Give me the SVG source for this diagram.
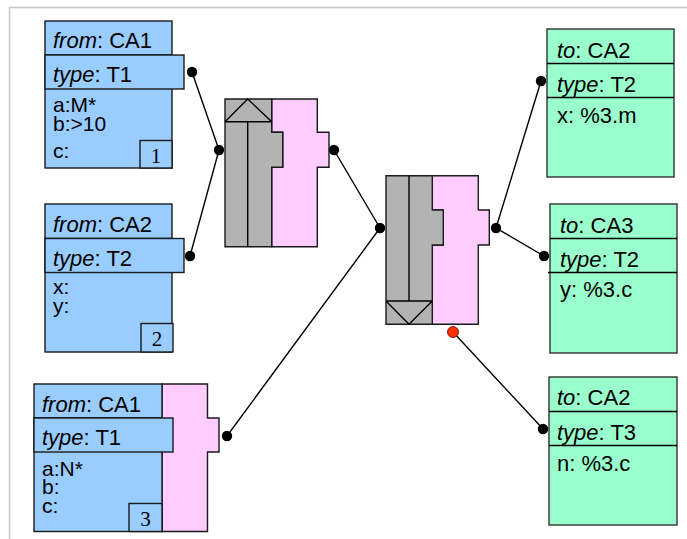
<svg xmlns="http://www.w3.org/2000/svg" width="687" height="539" viewBox="0 0 687 539">
<defs>
<style>
text{font-family:"Liberation Sans",Arial,sans-serif;font-size:22px;fill:#000}
.i{font-style:italic}
.b{font-size:21px}
.badge{font-family:"Liberation Serif","Times New Roman",serif;font-size:21px;text-anchor:middle}
.blue{fill:#99CCFF;stroke:#1a1a1a;stroke-width:1.4}
.green{fill:#99FFCC;stroke:#333;stroke-width:1.4}
.pink{fill:#FFCCFF;stroke:#1a1a1a;stroke-width:1.4}
.gray{fill:#B3B3B3;stroke:#1a1a1a;stroke-width:1.4}
.ln{stroke:#000;stroke-width:1.4;fill:none}
.dot{fill:#000}
.red{fill:#FF3300;stroke:#660000;stroke-width:0.8}
</style>
</defs>
<rect width="687" height="539" fill="#fff"/>
<path d="M9.5,545V7.5H690" fill="none" stroke="#c8c8c8" stroke-width="1.5"/>

<g id="connectors">
<path class="ln" d="M192,72L219,150M190,256L219,150M334,150L380,228M227,436L380,228M496,228L541,81M496,228L544,256M453,332L543,429"/>
</g>

<g id="node-from-CA1-T1">
<rect class="blue" x="45" y="21" width="127" height="147"/>
<line class="ln" x1="45" y1="55" x2="172" y2="55"/>
<rect class="blue" x="45" y="55" width="139" height="34"/>
<rect class="blue" x="140" y="140.5" width="32" height="27.5"/>
<text x="53" y="48"><tspan class="i">from</tspan>: CA1</text>
<text x="53" y="82"><tspan class="i">type</tspan>: T1</text>
<text class="b" x="53" y="112">a:M*</text>
<text class="b" x="53" y="131">b:&gt;10</text>
<text class="b" x="53" y="158">c:</text>
<text class="badge" x="156" y="163">1</text>
<circle class="dot" cx="192" cy="72" r="5.2"/>
</g>

<g id="node-from-CA2-T2">
<rect class="blue" x="45" y="204" width="127" height="148"/>
<line class="ln" x1="45" y1="238.5" x2="172" y2="238.5"/>
<rect class="blue" x="45" y="238.5" width="139" height="34"/>
<rect class="blue" x="141" y="323.5" width="32" height="28.5"/>
<text x="53" y="232"><tspan class="i">from</tspan>: CA2</text>
<text x="53" y="266"><tspan class="i">type</tspan>: T2</text>
<text class="b" x="53" y="294">x:</text>
<text class="b" x="53" y="313">y:</text>
<text class="badge" x="157" y="346">2</text>
<circle class="dot" cx="190" cy="256" r="5.2"/>
</g>

<g id="node-from-CA1-T1-3">
<path class="pink" d="M162,384H207.5V418H219V452H207.5V531.5H162Z"/>
<rect class="blue" x="34" y="384" width="128" height="147.5"/>
<line class="ln" x1="34" y1="418" x2="162" y2="418"/>
<rect class="blue" x="34" y="418" width="139" height="34"/>
<rect class="blue" x="129" y="503.5" width="33" height="28"/>
<text x="42" y="412"><tspan class="i">from</tspan>: CA1</text>
<text x="42" y="445"><tspan class="i">type</tspan>: T1</text>
<text class="b" x="42" y="476">a:N*</text>
<text class="b" x="42" y="494">b:</text>
<text class="b" x="42" y="513">c:</text>
<text class="badge" x="145.5" y="526">3</text>
<circle class="dot" cx="227" cy="436" r="5.2"/>
</g>

<g id="junction">
<circle class="dot" cx="219" cy="150" r="5.2"/>
</g>

<g id="merge-1">
<path class="pink" d="M271.7,99H317.3V132.3H329V167.3H317.3V246.7H271.7V167.3H282.7V132.3H271.7Z"/>
<path class="gray" d="M225,99H271.7V132.3H282.7V167.3H271.7V246.7H225Z"/>
<path class="ln" d="M225,121.7H271.7M225,121.7L247.7,99L271.7,121.7M247.7,121.7V246.7"/>
<circle class="dot" cx="334" cy="150" r="5.2"/>
</g>

<g id="merge-2">
<path class="pink" d="M432.3,175.7H478.3V210H489.3V245H478.3V324.3H432.3V245H443.3V210H432.3Z"/>
<path class="gray" d="M386,175.7H432.3V210H443.3V245H432.3V324.3H386Z"/>
<path class="ln" d="M386,301H432.3M386,301L409,324.3L432.3,301M409,175.7V301"/>
<circle class="dot" cx="380" cy="228" r="5.2"/>
<circle class="dot" cx="496" cy="228" r="5.2"/>
<circle class="red" cx="453" cy="332" r="5.5"/>
</g>

<g id="node-to-CA2-T2">
<rect class="green" x="547" y="29" width="127" height="148"/>
<path class="ln" d="M547,63.5H674M547,97.5H674" stroke="#333"/>
<text x="557" y="58"><tspan class="i">to</tspan>: CA2</text>
<text x="557" y="92"><tspan class="i">type</tspan>: T2</text>
<text x="557" y="123">x: %3.m</text>
<circle class="dot" cx="541" cy="81" r="5.2"/>
</g>

<g id="node-to-CA3-T2">
<rect class="green" x="550" y="204" width="127" height="149"/>
<path class="ln" d="M550,238.5H677M548,272.5H677" stroke="#333"/>
<text x="560" y="233"><tspan class="i">to</tspan>: CA3</text>
<text x="560" y="267"><tspan class="i">type</tspan>: T2</text>
<text x="560" y="297">y: %3.c</text>
<circle class="dot" cx="544" cy="256" r="5.2"/>
</g>

<g id="node-to-CA2-T3">
<rect class="green" x="549" y="377" width="128" height="148"/>
<path class="ln" d="M549,411.5H677M549,445.5H677" stroke="#333"/>
<text x="557" y="405"><tspan class="i">to</tspan>: CA2</text>
<text x="557" y="440"><tspan class="i">type</tspan>: T3</text>
<text x="557" y="471">n: %3.c</text>
<circle class="dot" cx="543" cy="429" r="5.2"/>
</g>
</svg>
